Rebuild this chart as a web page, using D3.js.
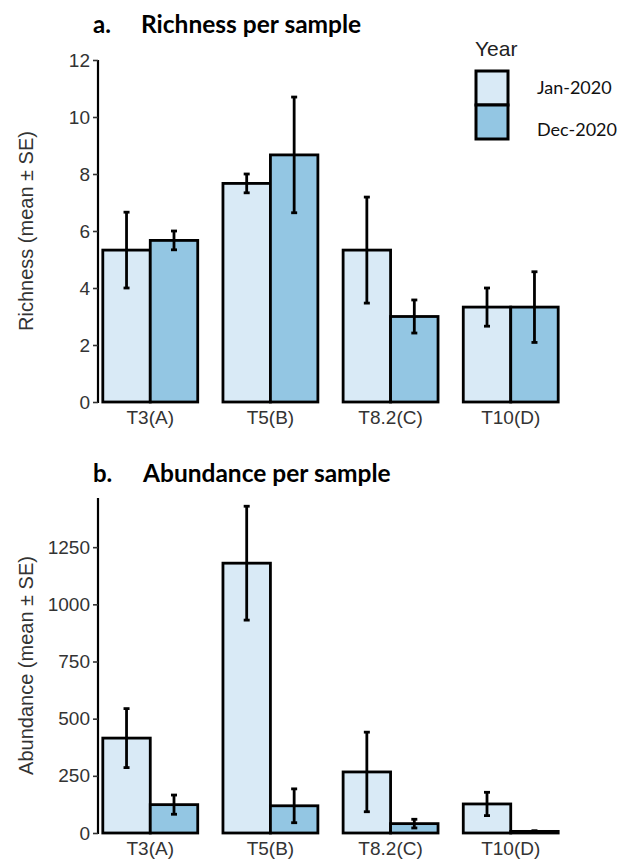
<!DOCTYPE html>
<html>
<head>
  <meta charset="utf-8" />
  <script src="https://cdn.jsdelivr.net/npm/d3@7"></script>
  <style>
    body { margin: 0; background: #fff; }
  </style>
</head>
<body>
<svg id="chart" width="622" height="862"></svg>
<script>
  var sites = ['T3(A)', 'T5(B)', 'T8.2(C)', 'T10(D)']
  var years = ['Jan-2020', 'Dec-2020']
  var colors = ['#d9eaf6', '#93c6e3']

  // richness mean and SE, per site, Jan then Dec
  var richJan = [5.33, 7.67, 5.33, 3.33]
  var richJanSE = [1.33, 0.33, 1.86, 0.67]
  var richDec = [5.67, 8.67, 3.0, 3.33]
  var richDecSE = [0.33, 2.03, 0.58, 1.24]

  // abundance mean and SE
  var abunJan = [415, 1180, 267, 127]
  var abunJanSE = [129, 249, 174, 51]
  var abunDec = [124, 119, 41, 7]
  var abunDecSE = [42, 74, 19, 3]

  var richTicks = [0, 2, 4, 6, 8, 10, 12]
  var abunTicks = [0, 250, 500, 750, 1000, 1250]

  var axisFont = '"Liberation Sans", Arial, sans-serif'
  var titleFont = 'Lato, "Open Sans", sans-serif'

  var svg = d3.select('#chart')

  function drawPanel(opt) {
    var rows = []
    sites.forEach(function(s, i) {
      rows.push({site: s, year: years[0], mean: opt.jan[i], se: opt.janSE[i]})
      rows.push({site: s, year: years[1], mean: opt.dec[i], se: opt.decSE[i]})
    })

    var x = d3.scaleBand().domain(sites).range([98, 563]).paddingInner(0.21).paddingOuter(0.04)
    var xi = d3.scaleBand().domain(years).range([0, x.bandwidth()])
    var y = d3.scaleLinear().domain(opt.domain).range([opt.bottom, opt.top])
    var color = d3.scaleOrdinal().domain(years).range(colors)

    var g = svg.append('g')

    g.append('text').attr('x', 93).attr('y', opt.titleY).text(opt.letter)
      .attr('font-family', titleFont).attr('font-weight', 'bold').attr('font-size', 24)
    g.append('text').attr('x', opt.titleX).attr('y', opt.titleY).text(opt.title)
      .attr('font-family', titleFont).attr('font-weight', 'bold').attr('font-size', 24.5)

    // bars
    g.selectAll('rect.bar').data(rows).enter().append('rect')
      .attr('class', 'bar')
      .attr('x', function(d) { return x(d.site) + xi(d.year) })
      .attr('y', function(d) { return y(d.mean) })
      .attr('width', xi.bandwidth())
      .attr('height', function(d) { return y(0) - y(d.mean) })
      .attr('fill', function(d) { return color(d.year) })
      .attr('stroke', '#000')
      .attr('stroke-width', 2.8)

    // error bars
    var eb = g.selectAll('g.err').data(rows).enter().append('g').attr('class', 'err')
      .attr('transform', function(d) { return 'translate(' + (x(d.site) + xi(d.year) + xi.bandwidth() / 2) + ',0)' })
    eb.append('line')
      .attr('y1', function(d) { return y(d.mean + d.se) })
      .attr('y2', function(d) { return y(Math.max(0, d.mean - d.se)) })
      .attr('stroke', '#000').attr('stroke-width', 2.8)
    eb.selectAll('line.cap').data(function(d) { return [d.mean + d.se, Math.max(0, d.mean - d.se)] })
      .enter().append('line').attr('class', 'cap')
      .attr('x1', -3).attr('x2', 3)
      .attr('y1', function(v) { return y(v) }).attr('y2', function(v) { return y(v) })
      .attr('stroke', '#000').attr('stroke-width', 2.8)

    // y axis
    var ya = g.append('g').attr('transform', 'translate(98,0)')
      .call(d3.axisLeft(y).tickValues(opt.ticks).tickFormat(d3.format('d')).tickSize(5).tickPadding(3))
    ya.select('.domain').attr('stroke', '#000').attr('stroke-width', 2.2)
      .attr('d', 'M0,' + opt.top + 'V' + (opt.bottom + 1))
    ya.selectAll('.tick line').attr('stroke', '#333').attr('stroke-width', 1.6)
    ya.selectAll('.tick text').attr('font-family', axisFont).attr('font-size', 19).attr('fill', '#333')

    // x labels only
    var xa = g.append('g').attr('transform', 'translate(0,' + opt.bottom + ')')
      .call(d3.axisBottom(x).tickSize(0).tickPadding(9))
    xa.select('.domain').remove()
    xa.selectAll('.tick text').attr('font-family', axisFont).attr('font-size', 19).attr('fill', '#333')

    g.append('text')
      .attr('transform', 'translate(33,' + ((opt.top + opt.bottom) / 2) + ') rotate(-90)')
      .attr('text-anchor', 'middle')
      .attr('font-family', axisFont).attr('font-size', 20).attr('fill', '#333')
      .text(opt.ylab)
  }

  drawPanel({
    letter: 'a.', title: 'Richness per sample', titleX: 141, titleY: 33,
    jan: richJan, janSE: richJanSE, dec: richDec, decSE: richDecSE,
    domain: [0, 12], ticks: richTicks, top: 60, bottom: 402,
    ylab: 'Richness (mean \u00b1 SE)'
  })

  drawPanel({
    letter: 'b.', title: 'Abundance per sample', titleX: 143, titleY: 482,
    jan: abunJan, janSE: abunJanSE, dec: abunDec, decSE: abunDecSE,
    domain: [0, 1465], ticks: abunTicks, top: 498, bottom: 833,
    ylab: 'Abundance (mean \u00b1 SE)'
  })

  // legend
  var leg = svg.append('g').attr('transform', 'translate(476,0)')
  leg.append('text').attr('x', -1).attr('y', 56).text('Year')
    .attr('font-family', axisFont).attr('font-size', 21).attr('fill', '#222')
  leg.selectAll('rect').data(years).enter().append('rect')
    .attr('x', 0).attr('y', function(d, i) { return 71 + i * 34 })
    .attr('width', 32).attr('height', 34)
    .attr('fill', function(d, i) { return colors[i] })
    .attr('stroke', '#000').attr('stroke-width', 3)
  leg.selectAll('text.leg').data(years).enter().append('text')
    .attr('class', 'leg')
    .attr('x', 61).attr('y', function(d, i) { return 94 + i * 42 })
    .attr('font-family', titleFont).attr('font-size', 18).attr('fill', '#111')
    .text(function(d) { return d })
</script>
</body>
</html>
